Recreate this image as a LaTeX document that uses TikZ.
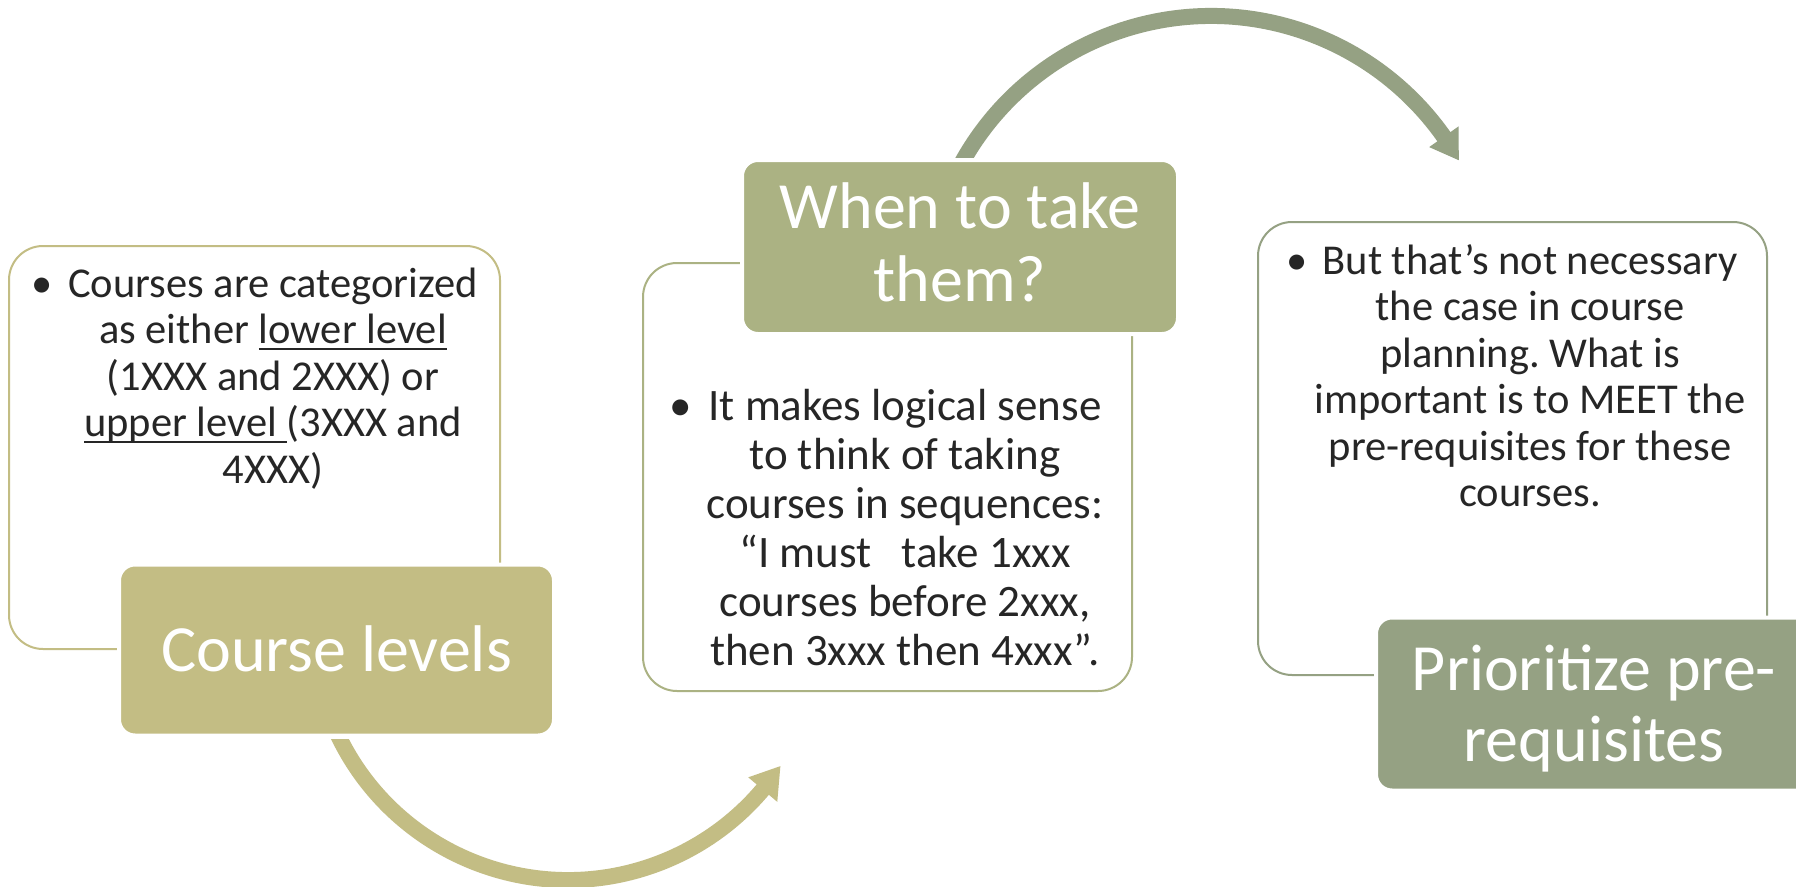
\documentclass[tikz,border=0pt]{standalone}
\usepackage{fontspec}
\setmainfont{Carlito}
\frenchspacing
\definecolor{khaki}{HTML}{C3BD84}
\definecolor{sage}{HTML}{ABB283}
\definecolor{moss}{HTML}{95A183}
\definecolor{txt}{HTML}{262626}
\newcommand\myul[1]{\setbox0=\hbox{#1}\rlap{\rule[-6pt]{\wd0}{2.2pt}}\box0}
\newcommand\bul{\llap{\textbullet\hspace{0.36em}}}
\tikzset{
  outbox/.style={draw, line width=2pt, rounded corners=34pt, fill=white, inner sep=0pt},
  fillbox/.style={draw=white, line width=4pt, rounded corners=16pt, inner sep=0pt},
  bodytxt/.style={text=txt, align=center, inner sep=0pt, anchor=north},
  titletxt/.style={text=white, align=center, inner sep=0pt},
  shaft/.style={line width=16pt},
}
\begin{document}
\begin{tikzpicture}[x=1pt,y=-1pt]
\useasboundingbox (0,0) rectangle (1796,886);
\fill[white] (0,0) rectangle (1796,886);

% arrows (behind boxes)
\begin{scope}
  \clip (0,739) rectangle (1796,886);
  \draw[shaft, khaki] ([shift={(568,625)}]160:255) arc[start angle=160, end angle=39, radius=255];
\end{scope}
\coordinate (a1l) at ([shift={(568,625)}]40.2:236);
\coordinate (a1r) at ([shift={(568,625)}]40.2:274);
\coordinate (a1t) at ([shift={(568,625)}]33.6:255);
\fill[khaki] (a1l) -- (a1t) -- (a1r) -- cycle;

\begin{scope}
  \clip (0,0) rectangle (1796,157);
  \draw[shaft, moss] ([shift={(1211,301)}]-155:285) arc[start angle=-155, end angle=-34, radius=285];
\end{scope}
\coordinate (a2l) at ([shift={(1211,301)}]-35.2:267);
\coordinate (a2r) at ([shift={(1211,301)}]-35.2:303);
\coordinate (a2t) at ([shift={(1211,301)}]-29.6:285);
\fill[moss] (a2l) -- (a2t) -- (a2r) -- cycle;

% outlined boxes
\node[outbox, draw=khaki, minimum width=491pt, minimum height=403pt] (b1) at (254.5,447.5) {};
\node[outbox, draw=sage, minimum width=489pt, minimum height=428pt] (b2) at (887.5,477) {};
\node[outbox, draw=moss, minimum width=509pt, minimum height=453pt] (b3) at (1512.5,448.5) {};

% filled boxes
\node[fillbox, fill=khaki, minimum width=435pt, minimum height=171pt] (cl) at (336.5,650) {};
\node[fillbox, fill=sage, minimum width=436pt, minimum height=174pt] (wh) at (960,247) {};
\node[fillbox, fill=moss, minimum width=436pt, minimum height=173pt] (pr) at (1594,704) {};

% body texts
\node[bodytxt, font=\fontsize{42.5}{46.5}\selectfont] (t1) at (273,264.5)
 {\bul\strut Courses are categorized\\ as either \myul{lower level}\\ (1XXX and 2XXX) or\\ \myul{upper level\ }(3XXX and\\ 4XXX)};
\node[bodytxt, font=\fontsize{45}{49}\selectfont] (t2) at (905,386)
 {\bul\strut It makes logical sense\\ to think of taking\\ courses in sequences:\\ “I must\ \ \ take 1xxx\\ courses before 2xxx,\\ then 3xxx then 4xxx”.};
\node[bodytxt, font=\fontsize{42.5}{46.5}\selectfont] (t3) at (1530,241.5)
 {\bul\strut But that’s not necessary\\ the case in course\\ planning. What is\\ important is to MEET the\\ pre-requisites for these\\ courses.};

% title texts
\node[titletxt, font=\fontsize{66}{73}\selectfont, anchor=base] (tcl) at (336.5,671) {Course levels};
\node[titletxt, font=\fontsize{66}{73}\selectfont, anchor=north] (twh) at (960,176.9) {\strut When to take\\ them?};
\node[titletxt, font=\fontsize{66}{71}\selectfont, anchor=north] (tpr) at (1594,641) {\strut Prioritize pre-\\ requisites};
\end{tikzpicture}
\end{document}
